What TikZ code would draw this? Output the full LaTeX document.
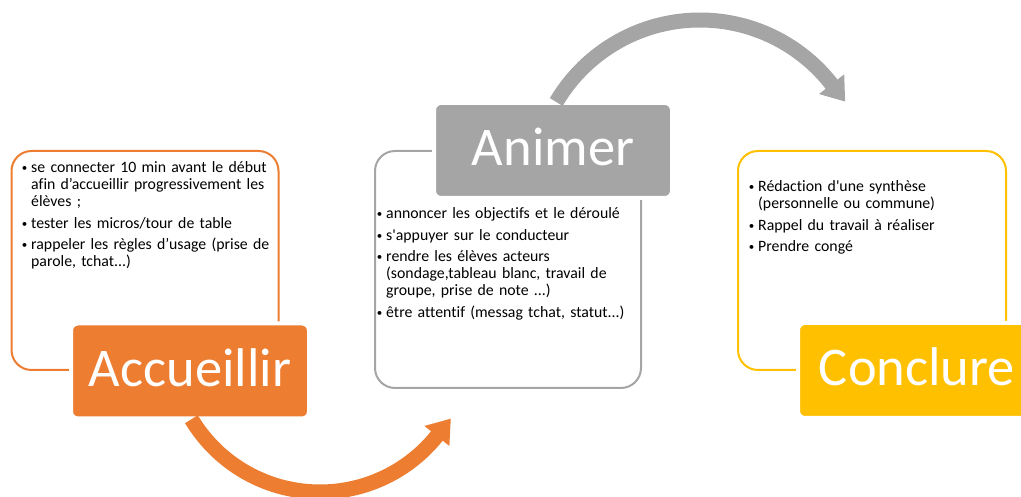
\documentclass[tikz,border=0pt]{standalone}
\usepackage{fontspec}
\setmainfont{Carlito}[Ligatures={TeXOff,CommonOff}]
\usetikzlibrary{calc}
\definecolor{acOrange}{HTML}{ED7D31}
\definecolor{acGray}{HTML}{A5A5A5}
\definecolor{acGold}{HTML}{FFC000}
\newcommand\bul{\hangindent=10pt\hangafter=1\noindent\makebox[10pt][l]{\hspace{0.6pt}\raisebox{1.3pt}{\fontsize{11}{11}\selectfont\textbullet}}}
\tikzset{
  container/.style={draw, rounded corners=20pt, line width=2pt, inner sep=0pt},
  labelbox/.style={draw=white, line width=4pt, rounded corners=7pt, inner sep=0pt,
    minimum width=238pt, minimum height=95pt},
  labeltext/.style={text=white, font=\fontsize{54.5}{60}\selectfont, inner sep=0pt, anchor=base},
  listtext/.style={anchor=base west, inner sep=0pt, text width=300pt,
    font=\fontsize{15.8}{17}\selectfont},
  arcbody/.style={line width=15pt}
}
\begin{document}
\begin{tikzpicture}[x=1pt,y=1pt]
\useasboundingbox (0,0) rectangle (1021,497);
\clip (0,0) rectangle (1021,497);
% containers
\node[container, draw=acOrange, minimum width=267pt, minimum height=219pt] (accC) at (145,236.5) {};
\node[container, draw=acGray, minimum width=266pt, minimum height=237pt] (aniC) at (508,227.5) {};
\node[container, draw=acGold, minimum width=268pt, minimum height=219pt] (conC) at (872,236.5) {};
% label boxes
\node[labelbox, fill=acOrange] (accB) at (190,126) {};
\node[labelbox, fill=acGray] (aniB) at (553,346.5) {};
\node[labelbox, fill=acGold] (conB) at (917,126.5) {};
\node[labeltext] (accT) at ($(accB.center)+(0,-15.5)$) {Accueillir};
\node[labeltext] (aniT) at ($(aniB.center)+(0,-15.5)$) {Animer};
\node[labeltext] (conT) at ($(conB.center)+(0,-15.5)$) {Conclure};
% lists
\node[listtext] (accL) at (21,324) {\raggedright\setlength{\parskip}{4.5pt}%
\bul se connecter 10 min avant le début\newline afin d’accueillir progressivement les\newline élèves ;\par
\bul tester les micros/tour de table\par
\bul rappeler les règles d’usage (prise de\newline parole, tchat...)\par};
\node[listtext] (aniL) at (376,278) {\raggedright\setlength{\parskip}{4.5pt}%
\bul annoncer les objectifs et le déroulé\par
\bul s'appuyer sur le conducteur\par
\bul rendre les élèves acteurs\newline (sondage,tableau blanc, travail de\newline groupe, prise de note ...)\par
\bul être attentif (messag tchat, statut...)\par};
\node[listtext] (conL) at (748,305) {\raggedright\setlength{\parskip}{4.5pt}%
\bul Rédaction d'une synthèse\newline (personnelle ou commune)\par
\bul Rappel du travail à réaliser\par
\bul Prendre congé\par};
% orange arrow
\coordinate (oc) at (320,155);
\draw[arcbody, acOrange] ([shift={(211:150)}]oc) arc[start angle=211, end angle=321.5, radius=150];
\fill[acOrange] ([shift={(321.2:134)}]oc) -- ([shift={(321.2:166)}]oc) -- ([shift={(329.6:151.6)}]oc) -- cycle;
% gray arrow
\coordinate (gc) at (700,310);
\draw[arcbody, acGray] ([shift={(149.4:167)}]gc) arc[start angle=149.4, end angle=37.7, radius=167];
\fill[acGray] ([shift={(38:151)}]gc) -- ([shift={(38:183)}]gc) -- ([shift={(30.5:168.4)}]gc) -- cycle;
\end{tikzpicture}
\end{document}
